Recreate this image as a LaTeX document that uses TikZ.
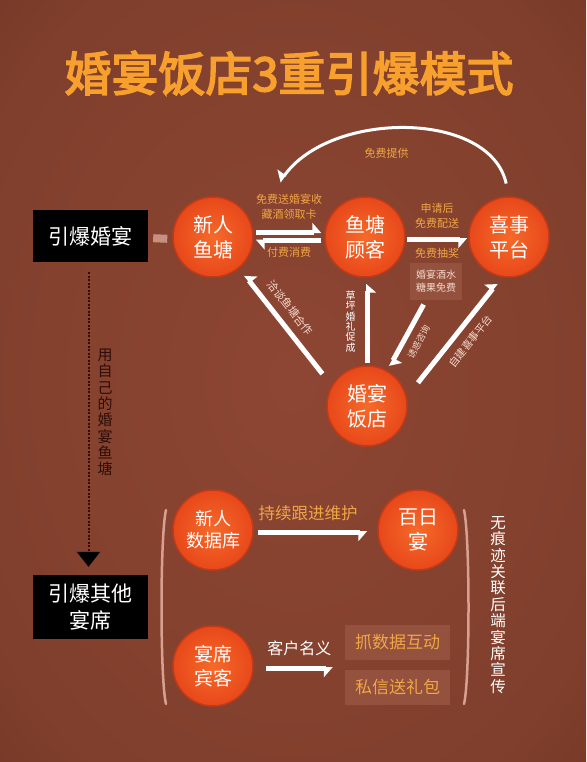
\documentclass[tikz,border=0pt]{standalone}
\usepackage{fontspec}
\setmainfont{Noto Sans CJK SC}
\newfontfamily\titlefont{Noto Sans CJK SC}[FakeBold=3.5]
\usetikzlibrary{arrows.meta}

\definecolor{bgin}{HTML}{8D4633}
\definecolor{bgmid}{HTML}{7F3F2C}
\definecolor{bgedge}{HTML}{6A2C1E}
\definecolor{bgout}{HTML}{4F1D13}
\definecolor{ballin}{HTML}{F56A2A}
\definecolor{ballout}{HTML}{E8481A}
\definecolor{ballrim}{HTML}{C23A17}
\definecolor{ttlc}{HTML}{F7A02E}
\definecolor{labo}{HTML}{F0A645}
\definecolor{pinkw}{HTML}{F6D9CC}
\definecolor{stubc}{HTML}{C89080}
\definecolor{dotc}{HTML}{3A0806}
\definecolor{darkt}{HTML}{2E0D08}
\definecolor{boxc}{HTML}{94513E}
\definecolor{brac}{HTML}{D8A090}

\pgfdeclareradialshading{bgshade}{\pgfpoint{0bp}{0bp}}{color(0bp)=(bgin); color(30bp)=(bgmid); color(50bp)=(bgedge); color(72bp)=(bgout)}

\begin{document}
\begin{tikzpicture}[x=1pt,y=-1pt,
  ttl/.style={font=\titlefont\fontsize{47}{50}\selectfont,text=ttlc},
  ball/.style={circle,minimum size=80pt,inner sep=0pt,shading=radial,inner color=ballin,outer color=ballout,
    draw=ballrim,line width=1.5pt,text=white,align=center,font=\fontsize{20}{25}\selectfont},
  blk/.style={fill=black,text=white,minimum width=115pt,inner sep=0pt,align=center,font=\fontsize{21}{27}\selectfont},
  wa/.style={draw=white,line width=5pt},
  wc/.style={draw=white,line width=3pt},
  hp/.style={-{Triangle[harpoon,length=8pt,width=18pt]}},
  hps/.style={-{Triangle[harpoon,swap,length=8pt,width=18pt]}},
  lab/.style={font=\fontsize{11}{15}\selectfont,text=labo,inner sep=0pt,align=center},
  lab2/.style={font=\fontsize{11}{14}\selectfont,text=pinkw,inner sep=0pt},
  lab3/.style={font=\fontsize{16.5}{20}\selectfont,text=labo,inner sep=0pt},
  vt/.style={font=\fontsize{15}{16.3}\selectfont,inner sep=0pt,align=center},
  sbox/.style={fill=boxc,text=pinkw,minimum width=52pt,minimum height=37pt,inner sep=0pt,align=center,
    font=\fontsize{10}{13}\selectfont},
  gbox/.style={fill=boxc,text=labo,minimum width=105pt,minimum height=35pt,inner sep=0pt,
    font=\fontsize{17}{20}\selectfont},
  stub/.style={draw=stubc,line width=8pt,shorten <=5pt,shorten >=5pt},
  dots/.style={draw=dotc,line width=2pt,dash pattern=on 2pt off 1.5pt,shorten <=10pt,shorten >=8pt,
    -{Triangle[length=15pt,width=23pt,color=black]}},
  bra/.style={draw=brac,line width=2.5pt,line cap=round}]

  \fill[shading=bgshade] (0,0) rectangle (586,762);
  \useasboundingbox (0,0) rectangle (586,762);

  \node[ttl] (tt) at (289,73) {婚宴饭店3重引爆模式};

  \node[blk,minimum height=52pt] (bz) at (90.5,236) {引爆婚宴};
  \node[blk,minimum height=64pt] (bq) at (90.5,607) {引爆其他\\宴席};

  \node[ball] (vxr) at (213,237) {新人\\鱼塘};
  \node[ball] (vyt) at (365,237) {鱼塘\\顾客};
  \node[ball] (vxs) at (509,237) {喜事\\平台};
  \node[ball] (vfd) at (367,406) {婚宴\\饭店};
  \node[ball,font=\fontsize{18}{22}\selectfont] (vsj) at (213,530) {新人\\数据库};
  \node[ball] (vbr) at (418,530) {百日\\宴};
  \node[ball,font=\fontsize{19}{24}\selectfont] (vbk) at (213,666) {宴席\\宾客};

  \node[sbox] (jb) at (436,281.5) {婚宴酒水\\糖果免费};
  \node[gbox] (zh) at (397.5,642) {抓数据互动};
  \node[gbox] (sx) at (397.5,687.5) {私信送礼包};

  % left column
  \draw[stub] ([yshift=-2pt]bz.east) -- ([yshift=-2pt]vxr.west);
  \draw[dots] ([xshift=-2pt]bz.south) -- ([xshift=-2pt]bq.north)
    node[midway,right=8pt,yshift=6pt,vt,text=darkt] {用\\自\\己\\的\\婚\\宴\\鱼\\塘};

  % upper triangle
  \draw[wa,hp,shorten <=2pt,shorten >=3pt] ([yshift=5pt]vxr.east) -- ([yshift=5pt]vyt.west)
    node[midway,above=10pt,lab] {免费送婚宴收\\藏酒领取卡};
  \draw[wa,hp,shorten <=3pt,shorten >=2pt] ([yshift=-3.5pt]vyt.west) -- ([yshift=-3.5pt]vxr.east)
    node[midway,below=4pt,lab] {付费消费};
  \draw[wa,hps,shorten <=1pt,shorten >=1pt] ([yshift=-2pt]vyt.east) -- ([yshift=-2pt]vxs.west)
    node[midway,above=8pt,lab] {申请后\\免费配送}
    node[midway,below=6.5pt,lab] {免费抽奖};
  \draw[wc,hps,shorten <=13pt,shorten >=50pt] (vxs.north) .. controls (490,110) and (330,110) .. (vxr.20)
    node[pos=0.55,below=10pt,lab] {免费提供};

  \draw[wa,hps,shorten <=15pt,shorten >=9pt] (vfd.150) -- (vxr.-50)
    node[pos=0.58,sloped,above=8pt,lab2] {洽谈鱼塘合作};
  \draw[wa,hps,shorten <=2pt,shorten >=6pt] (vfd.north) -- (vfd.north |- vyt.south)
    node[midway,left=9pt,vt,font=\fontsize{10}{10.3}\selectfont,text=white] {草\\坪\\婚\\礼\\促\\成};
  \draw[wa,hp,shorten <=5pt,shorten >=5pt] ([xshift=-10pt]jb.south) -- (vfd.60)
    node[midway,sloped,below=7pt,lab2,font=\fontsize{9}{11}\selectfont] {诱惑咨询};
  \draw[wa,hp,shorten <=18pt,shorten >=8pt] (vfd.13) -- (vxs.-100)
    node[pos=0.544,sloped,below=8pt,lab2,font=\fontsize{10.5}{13}\selectfont] {自建喜事平台};

  % lower part
  \draw[bra] (166,510) .. controls (160,535) and (160,680) .. (166,704);
  \draw[bra] (464,510) .. controls (470,535) and (470,680) .. (464,704);

  \draw[wa,hps,shorten <=4pt,shorten >=10pt] ([yshift=-2pt]vsj.east) -- ([yshift=-2pt]vbr.west)
    node[pos=0.44,above=9pt,lab3] {持续跟进维护};
  \coordinate (ke) at ([yshift=-2pt]vbk.east);
  \draw[wa,hps,shorten <=12pt,shorten >=12pt] (ke) -- (ke -| zh.west)
    node[midway,above=10pt,lab3,text=white,font=\fontsize{16}{20}\selectfont] {客户名义};

  \node[vt,font=\fontsize{15.5}{16.4}\selectfont,text=white] (hd) at (498,605)
    {无\\痕\\迹\\关\\联\\后\\端\\宴\\席\\宣\\传};

\end{tikzpicture}
\end{document}
